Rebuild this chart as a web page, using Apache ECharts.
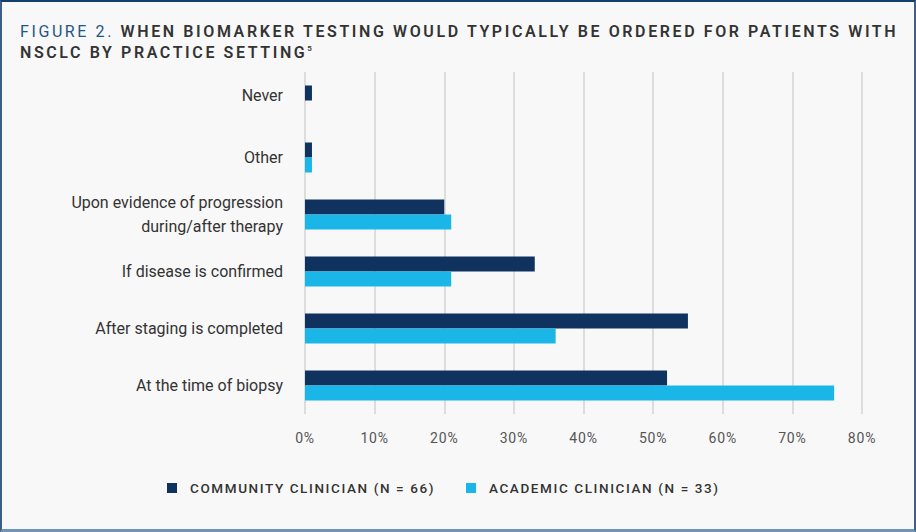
<!DOCTYPE html>
<html>
<head>
<meta charset="utf-8">
<script src="https://cdn.jsdelivr.net/npm/echarts@6/dist/echarts.min.js"></script>
<style>
  html, body { margin: 0; padding: 0; background: #f8f8f8; }
  #wrap { position: relative; width: 916px; height: 532px; box-sizing: border-box;
    border-top: 2px solid #163e6c; border-left: 2px solid #3d5f86; border-right: 2px solid #3d5f86;
    border-bottom: 3px solid #7193b5; background: #f8f8f8; overflow: hidden; }
  #title { position: absolute; left: 18px; top: 19px; font-family: Roboto, "DejaVu Sans", sans-serif;
    font-size: 16px; line-height: 21px; letter-spacing: 2.6px; color: #333; font-weight: 600; white-space: nowrap; }
  #title .fig { color: #1f5587; font-weight: 400; }
  #title sup { font-size: 8px; vertical-align: 7px; line-height: 0; }
  #chart { position: absolute; left: -2px; top: -2px; width: 916px; height: 532px; }
</style>
</head>
<body>
<div id="wrap">
  <div id="chart"></div>
  <div id="title"><span class="fig">FIGURE 2.</span> WHEN BIOMARKER TESTING WOULD TYPICALLY BE ORDERED FOR PATIENTS WITH<br>NSCLC BY PRACTICE SETTING<sup>5</sup></div>
</div>
<script>
const categories = [
  'Never',
  'Other',
  'Upon evidence of progression\nduring/after therapy',
  'If disease is confirmed',
  'After staging is completed',
  'At the time of biopsy'
];
const communityName = 'COMMUNITY CLINICIAN (N = 66)';
const academicName = 'ACADEMIC CLINICIAN (N = 33)';
const communityValues = [1, 1, 20, 33, 55, 52];
const academicValues = [0, 1, 21, 21, 36, 76];
const xTicks = [0, 10, 20, 30, 40, 50, 60, 70, 80];

const chart = echarts.init(document.getElementById('chart'), null, { renderer: 'svg' });
const font = 'Roboto, "DejaVu Sans", sans-serif';
chart.setOption({
  animation: false,
  backgroundColor: 'transparent',
  grid: { left: 305, right: 54, top: 72, bottom: 118, containLabel: false },
  legend: [
    { data: [communityName], left: 167, top: 481, padding: 0, itemWidth: 10, itemHeight: 10,
      icon: 'rect', selectedMode: false,
      textStyle: { fontFamily: font, fontSize: 13.5, color: '#333', fontWeight: 500, padding: [0, 0, 0, 8] } },
    { data: [academicName], left: 466, top: 481, padding: 0, itemWidth: 10, itemHeight: 10,
      icon: 'rect', selectedMode: false,
      textStyle: { fontFamily: font, fontSize: 13.5, color: '#333', fontWeight: 500, padding: [0, 0, 0, 8] } }
  ],
  xAxis: {
    type: 'value', min: xTicks[0], max: xTicks[xTicks.length - 1], interval: 10,
    axisLine: { show: false }, axisTick: { show: false },
    splitLine: { show: true, lineStyle: { color: '#dcdddd', width: 2 } },
    axisLabel: { formatter: v => v + '%', fontFamily: font, fontSize: 14, color: '#555', margin: 17 }
  },
  yAxis: {
    type: 'category', data: categories, inverse: true,
    axisLine: { show: false }, axisTick: { show: false },
    axisLabel: {
      fontFamily: font, fontSize: 16, color: '#333', margin: 22, lineHeight: 24, align: 'right',
      formatter: v => v === categories[0] ? '{up|' + v + '}' : v,
      rich: { up: { fontFamily: font, fontSize: 16, color: '#333', padding: [0, 0, 10, 0] } }
    }
  },
  series: [
    { name: communityName, type: 'bar', data: communityValues, barWidth: 15, barGap: '0%',
      itemStyle: { color: '#10325f' } },
    { name: academicName, type: 'bar', data: academicValues, barWidth: 15, barGap: '0%',
      itemStyle: { color: '#1bb6e8' } }
  ]
});

function spaceTexts() {
  const spaced = new Set([communityName, academicName]);
  xTicks.forEach(t => spaced.add(t + '%'));
  document.querySelectorAll('#chart text').forEach(el => {
    const t = el.textContent.trim();
    if (spaced.has(t)) {
      el.style.letterSpacing = (t.indexOf('CLINICIAN') >= 0) ? '1.6px' : '0.8px';
    }
  });
}
spaceTexts();
chart.on('finished', spaceTexts);
</script>
</body>
</html>
